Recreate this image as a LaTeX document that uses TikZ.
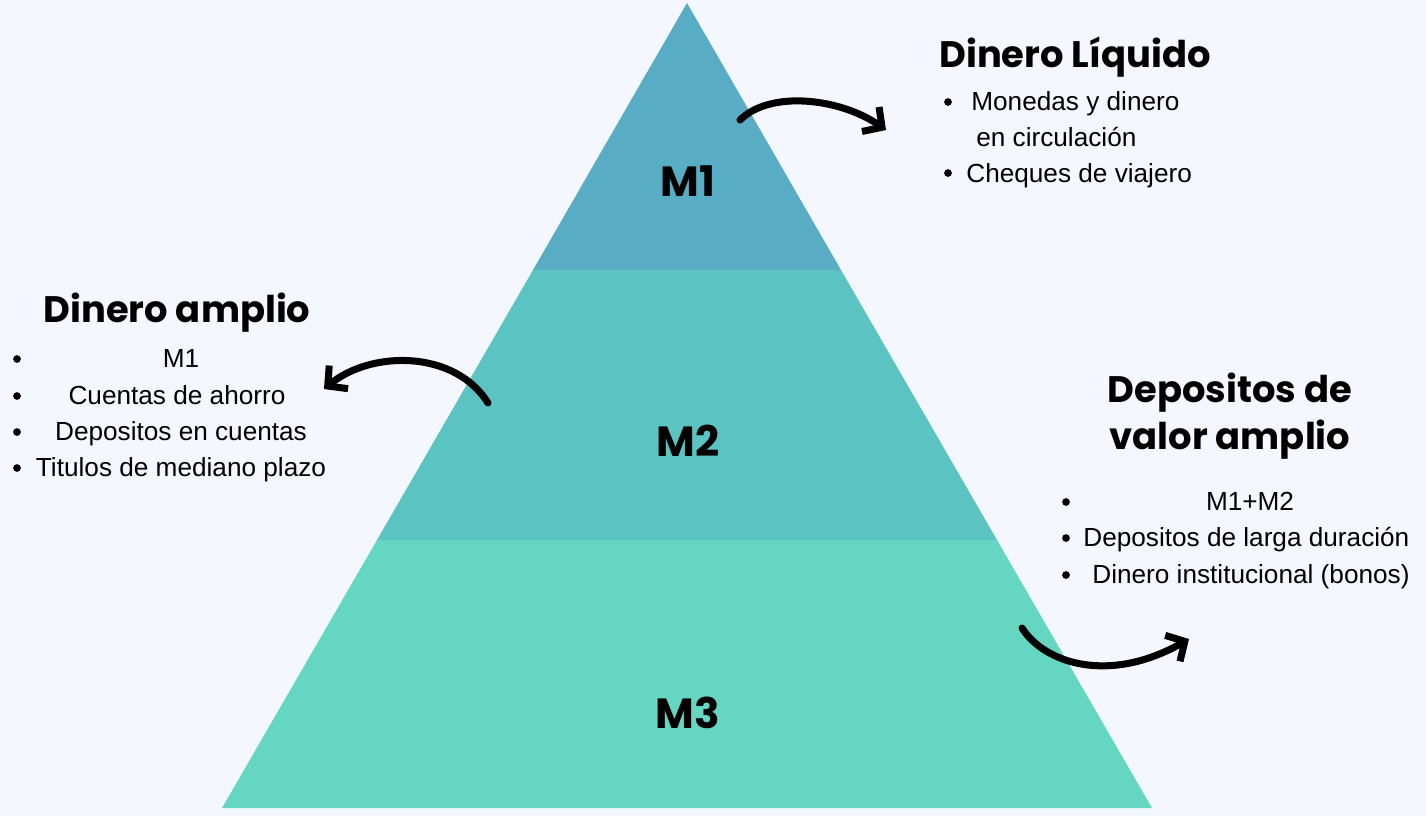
\documentclass[tikz,border=0pt]{standalone}
\usepackage{fontspec}
\setmainfont{Liberation Sans}
\newfontfamily\headfont{Poppins}
\usepackage{xcolor}
\usepackage{tikz}
\usetikzlibrary{arrows.meta, calc}

\definecolor{paper}{HTML}{F4F8FE}
\definecolor{topband}{HTML}{58ACC4}
\definecolor{midband}{HTML}{5CC3C3}
\definecolor{lowband}{HTML}{64D6C2}

\begin{document}
\begin{tikzpicture}[x=0.02cm, y=-0.02cm,
    level/.style={font=\headfont\bfseries\fontsize{24}{28}\selectfont},
    heading/.style={font=\headfont\bfseries\fontsize{21}{27}\selectfont, align=center},
    item/.style={font=\fontsize{14.9}{17}\selectfont, inner sep=0pt},
    dot/.style={circle, fill=black, inner sep=0pt, minimum size=4.4pt},
    swoop/.style={line width=4pt, line cap=round, -{Straight Barb[length=8pt, width=17pt]}}]
        \fill[paper] (0,0) rectangle (1426,816);

        % Pyramid bands
        \fill[topband] (687,3) -- (841,270) -- (533,270) -- cycle;
        \fill[midband] (533,270) -- (841,270) -- (997,540) -- (377,540) -- cycle;
        \fill[lowband] (377,540) -- (997,540) -- (1152,808) -- (222,808) -- cycle;

        \node[level] (m1) at (688,181) {M1};
        \node[level] (m2) at (688,441) {M2};
        \node[level] (m3) at (688,713) {M3};

        % Headings
        \node[heading] (liquido) at (1075,57) {Dinero Líquido};
        \node[heading] (amplio) at (177,313) {Dinero amplio};
        \node[heading] (valor) at (1230,416) {Depositos de\\valor amplio};

        % Lists
        \node[item, anchor=base west] (liq1) at (971,110) {Monedas y dinero};
        \node[item, anchor=base west] (liq2) at (976,146) {en circulación};
        \node[item, anchor=base west] (liq3) at (966,182) {Cheques de viajero};

        \node[item, anchor=base] (amp1) at (181,367) {M1};
        \node[item, anchor=base] (amp2) at (177,404) {Cuentas de ahorro};
        \node[item, anchor=base] (amp3) at (181,440) {Depositos en cuentas};
        \node[item, anchor=base] (amp4) at (181,476) {Titulos de mediano plazo};

        \node[item, anchor=base] (val1) at (1250,510) {M1+M2};
        \node[item, anchor=base west] (val2) at (1083,546) {Depositos de larga duración};
        \node[item, anchor=base west] (val3) at (1092,583) {Dinero institucional (bonos)};

        \foreach \n/\x/\y in {a/948/102, b/948/173, c/17/359, d/17/396, e/17/432, f/17/468, g/1066/502, h/1066/538, i/1066/575} {
            \node[dot] (dot\n) at (\x,\y) {};
        }

        % Arrows
        \coordinate (s1) at (740,120);
        \coordinate (e1) at (886,130);
        \coordinate (s2) at (488,403);
        \coordinate (e2) at (324,389);
        \coordinate (s3) at (1022,628);
        \coordinate (e3) at (1189,639);
        \draw[swoop] (s1) .. controls (770,90) and (840,98) .. (e1);
        \draw[swoop] (s2) .. controls (455,350) and (372,350) .. (e2);
        \draw[swoop] (s3) .. controls (1045,664) and (1110,684) .. (e3);
    \end{tikzpicture}
\end{document}
